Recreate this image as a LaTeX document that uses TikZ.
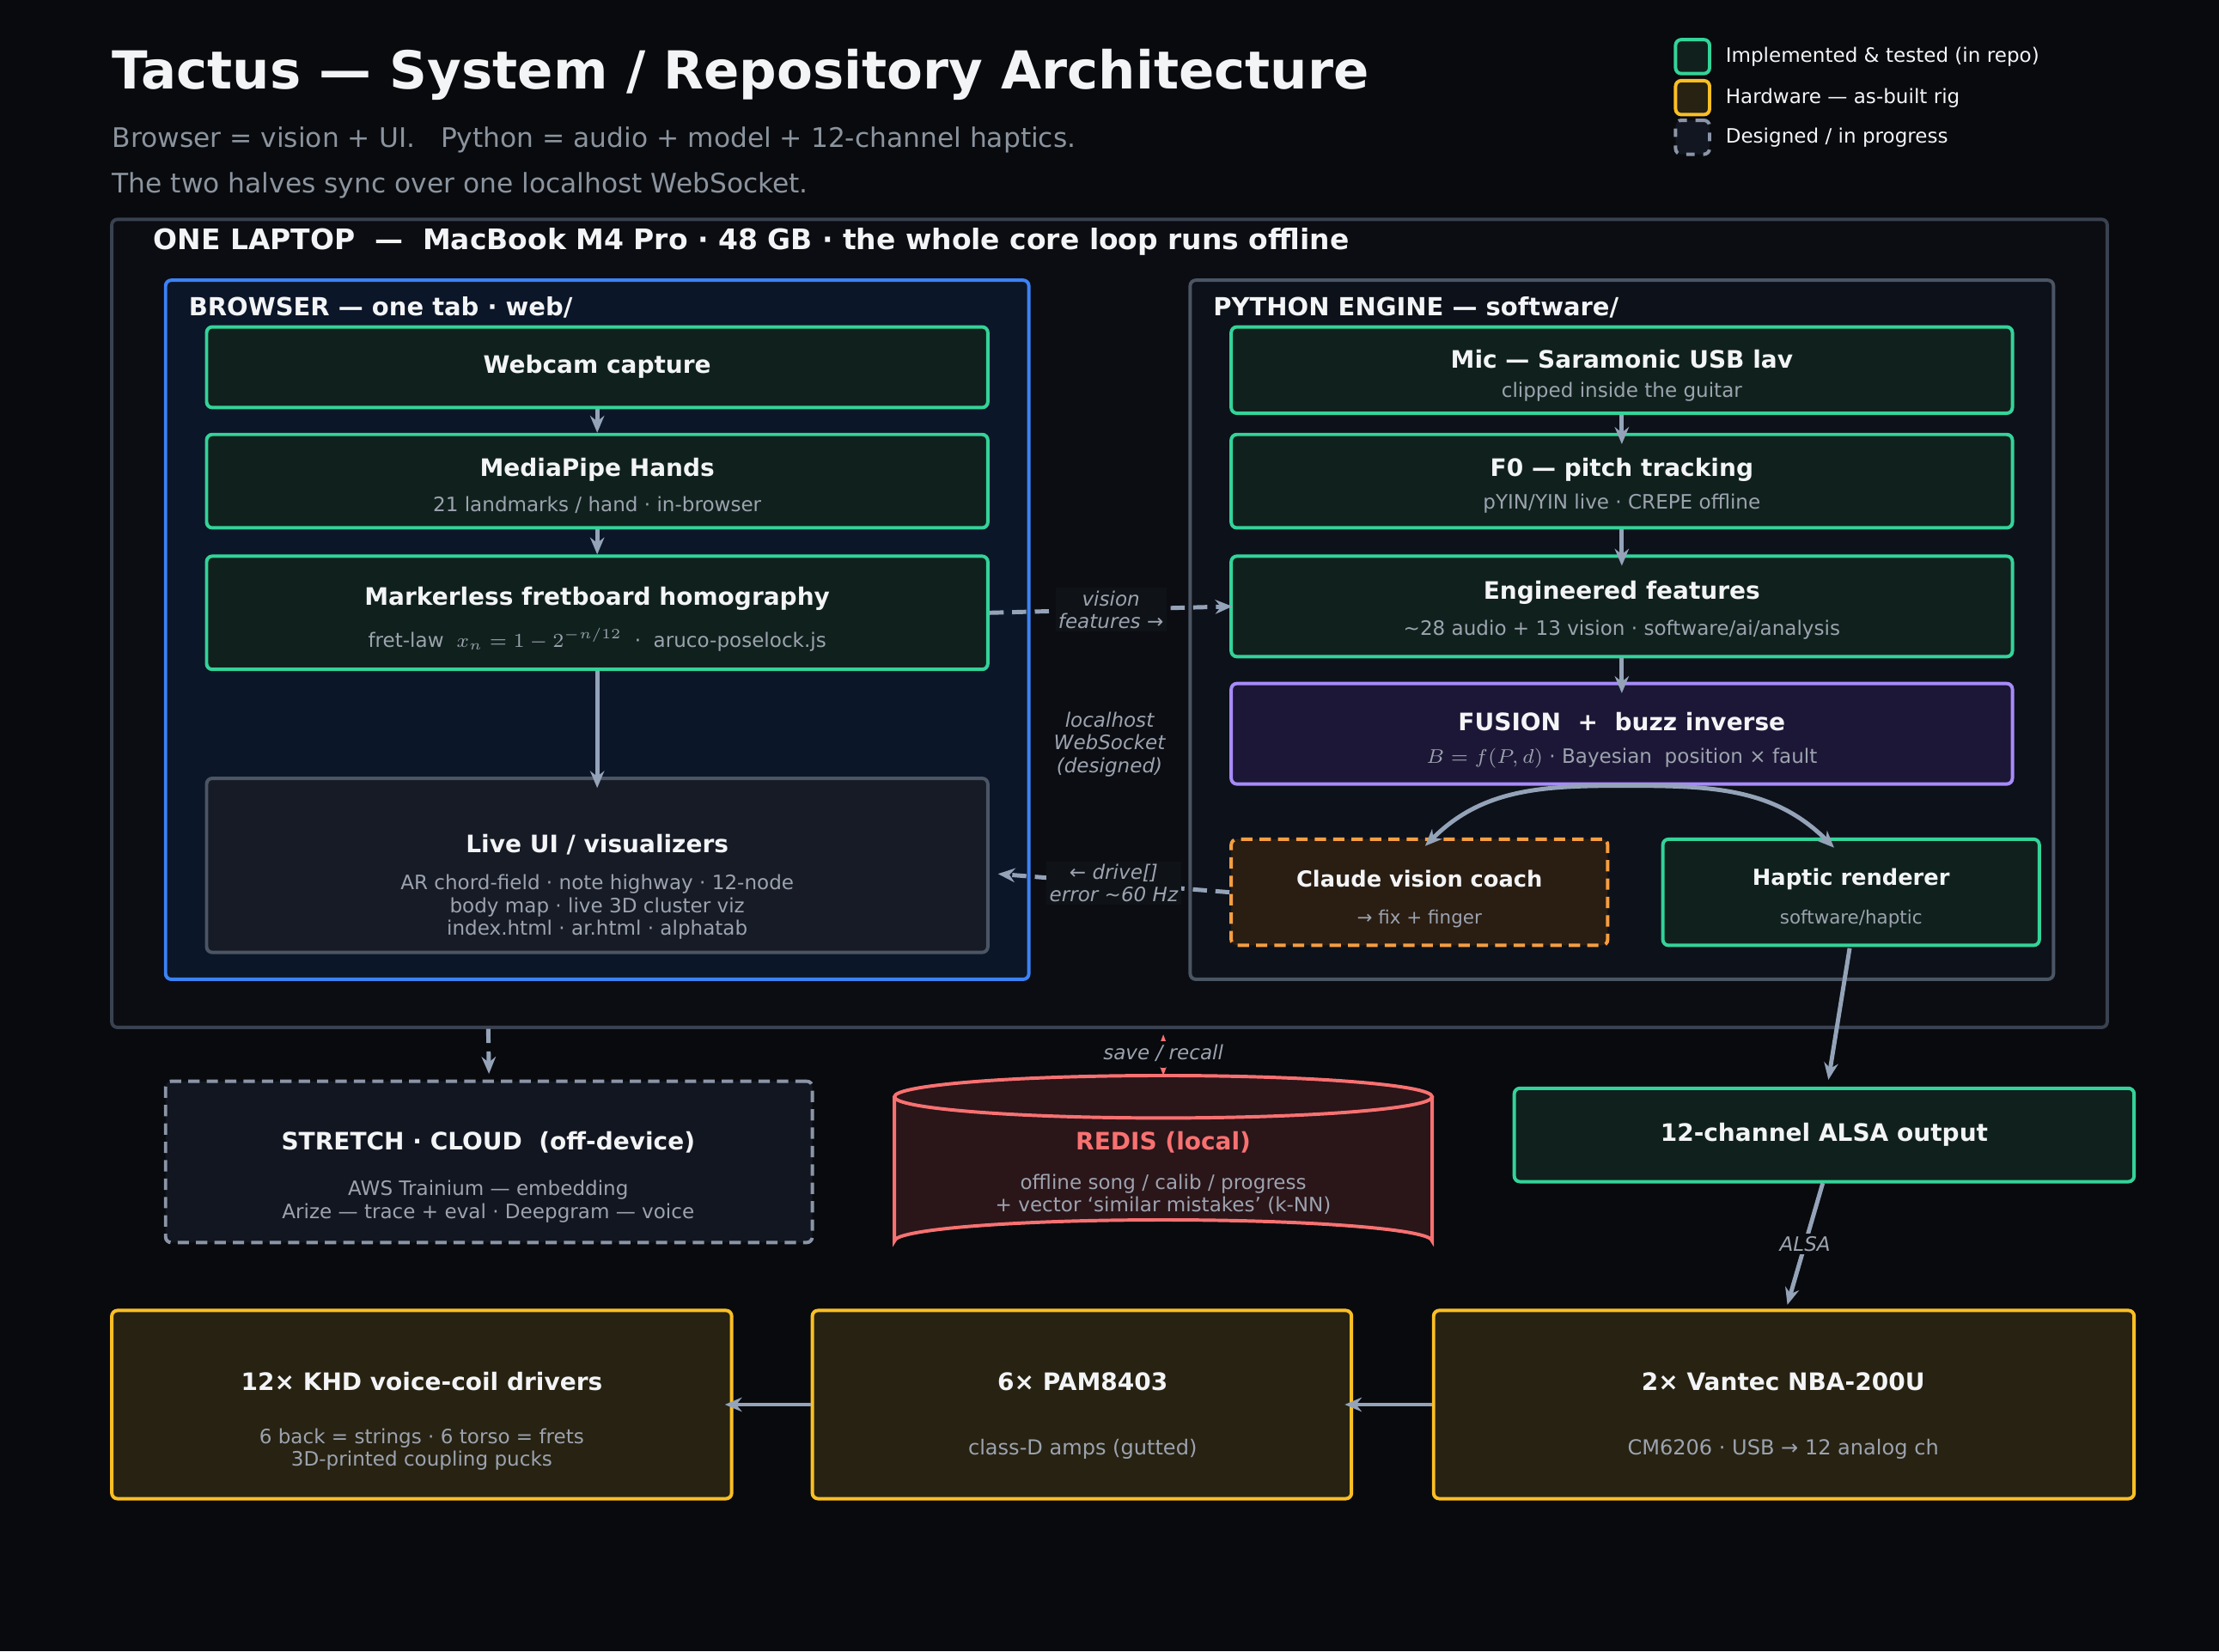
\documentclass[tikz,border=0pt]{standalone}
\usepackage{fontspec}
\setmainfont{DejaVu Sans}
\usetikzlibrary{arrows.meta,shapes.geometric}
\definecolor{bg}{HTML}{080A0E}
\definecolor{lapfill}{HTML}{0B0D12}
\definecolor{lapline}{HTML}{3A4150}
\definecolor{brline}{HTML}{3B82F6}
\definecolor{brfill}{HTML}{0B1628}
\definecolor{pyfill}{HTML}{0D111A}
\definecolor{grayline}{HTML}{4B5563}
\definecolor{grn}{HTML}{34D399}
\definecolor{grnfill}{HTML}{10211D}
\definecolor{pur}{HTML}{A78BFA}
\definecolor{purfill}{HTML}{1C1736}
\definecolor{org}{HTML}{F59E42}
\definecolor{orgfill}{HTML}{2A1D12}
\definecolor{uifill}{HTML}{161B26}
\definecolor{cloudfill}{HTML}{121620}
\definecolor{cloudline}{HTML}{8B95A7}
\definecolor{red}{HTML}{F87171}
\definecolor{redfill}{HTML}{2A1519}
\definecolor{yel}{HTML}{FBBF24}
\definecolor{yelfill}{HTML}{272212}
\definecolor{arr}{HTML}{94A3B8}
\definecolor{sub}{HTML}{9CA3AF}
\definecolor{subt}{HTML}{8B949E}
\definecolor{wht}{HTML}{F3F4F6}
\definecolor{lblbg}{HTML}{0F1318}
\newcommand\boxnode[6]{\node[#6, minimum width={(#4-#2)*0.5pt}, minimum height={(#5-#3)*0.5pt}] (#1) at ({(#2+#4)/2},{(#3+#5)/2}) {};}
\tikzset{
 bx/.style={draw, rounded corners=2pt, line width=1.2pt, inner sep=0pt},
 gbox/.style={bx, draw=grn, fill=grnfill},
 ybox/.style={bx, draw=yel, fill=yelfill},
 ttl/.style={text=wht, font=\bfseries\fontsize{8.5}{10}\selectfont, inner sep=0pt},
 st/.style={text=sub, font=\fontsize{7}{8}\selectfont, align=center, inner sep=0pt},
 ar/.style={draw=arr, line width=1.5pt, -{Stealth[length=6pt,width=5pt]}},
 dar/.style={ar, dash pattern=on 5pt off 3pt},
 lbl/.style={text=sub, font=\itshape\fontsize{7}{8}\selectfont, align=center, inner sep=1pt},
}
\begin{document}
\begin{tikzpicture}[x=0.5pt,y=-0.5pt]
\fill[bg] (0,0) rectangle (1568,1167);
\useasboundingbox (0,0) rectangle (1568,1167);
% title
\node[anchor=west,text=wht,font=\bfseries\fontsize{18.5}{22}\selectfont,inner sep=0pt] (title) at (79,53) {Tactus — System / Repository Architecture};
\node[anchor=west,text=subt,font=\fontsize{9.5}{11}\selectfont,inner sep=0pt] (s1) at (79,99) {Browser = vision + UI.\ \ \ Python = audio + model + 12-channel haptics.};
\node[anchor=west,text=subt,font=\fontsize{9.5}{11}\selectfont,inner sep=0pt] (s2) at (79,131) {The two halves sync over one localhost WebSocket.};
% legend
\boxnode{lg1}{1184}{28}{1208}{52}{gbox}
\boxnode{lg2}{1184}{57}{1208}{81}{ybox}
\boxnode{lg3}{1184}{85}{1208}{109}{bx,draw=cloudline,fill=cloudfill,dashed}
\node[anchor=west,text=wht,font=\fontsize{7}{8}\selectfont,inner sep=0pt] at (1219,40) {Implemented \& tested (in repo)};
\node[anchor=west,text=wht,font=\fontsize{7}{8}\selectfont,inner sep=0pt] at (1219,69) {Hardware — as-built rig};
\node[anchor=west,text=wht,font=\fontsize{7}{8}\selectfont,inner sep=0pt] at (1219,97) {Designed / in progress};
% laptop
\boxnode{lap}{79}{155}{1489}{726}{bx,draw=lapline,fill=lapfill}
\node[anchor=west,text=wht,font=\bfseries\fontsize{10}{12}\selectfont,inner sep=0pt] at (108,171) {ONE LAPTOP\ \ —\ \ MacBook M4 Pro · 48 GB · the whole core loop runs offline};
% browser
\boxnode{br}{117}{198}{727}{692}{bx,draw=brline,fill=brfill}
\node[anchor=west,text=wht,font=\bfseries\fontsize{8.8}{10}\selectfont,inner sep=0pt] at (133,217) {BROWSER — one tab · web/};
\boxnode{web}{146}{231}{698}{288}{gbox}
\node[ttl] at (422,259) {Webcam capture};
\boxnode{mp}{146}{307}{698}{373}{gbox}
\node[ttl] at (422,332) {MediaPipe Hands};
\node[st] at (422,357) {21 landmarks / hand · in-browser};
\boxnode{mk}{146}{393}{698}{473}{gbox}
\node[ttl] at (422,423) {Markerless fretboard homography};
\node[st] at (422,452) {fret-law\ \ $x_n=1-2^{-n/12}$\ \ ·\ \ aruco-poselock.js};
\boxnode{ui}{146}{550}{698}{673}{bx,draw=grayline,fill=uifill}
\node[ttl] at (422,597) {Live UI / visualizers};
\node[st] at (422,641) {AR chord-field · note highway · 12-node\\body map · live 3D cluster viz\\index.html · ar.html · alphatab};
% python
\boxnode{py}{841}{198}{1451}{692}{bx,draw=grayline,fill=pyfill}
\node[anchor=west,text=wht,font=\bfseries\fontsize{8.8}{10}\selectfont,inner sep=0pt] at (857,217) {PYTHON ENGINE — software/};
\boxnode{mic}{870}{231}{1422}{292}{gbox}
\node[ttl] at (1146,254) {Mic — Saramonic USB lav};
\node[st] at (1146,277) {clipped inside the guitar};
\boxnode{f0}{870}{307}{1422}{373}{gbox}
\node[ttl] at (1146,332) {F0 — pitch tracking};
\node[st] at (1146,356) {pYIN/YIN live · CREPE offline};
\boxnode{eng}{870}{393}{1422}{464}{gbox}
\node[ttl] at (1146,419) {Engineered features};
\node[st] at (1146,445) {\textasciitilde28 audio + 13 vision · software/ai/analysis};
\boxnode{fus}{870}{483}{1422}{554}{bx,draw=pur,fill=purfill}
\node[ttl] at (1146,510) {FUSION\ \ +\ \ buzz inverse};
\node[st] at (1146,536) {$B=f(P,d)$ · Bayesian\ \ position × fault};
\boxnode{cl}{870}{593}{1136}{668}{bx,draw=org,fill=orgfill,dash pattern=on 4pt off 2.5pt}
\node[ttl,font=\bfseries\fontsize{7.8}{9}\selectfont] at (1003,621) {Claude vision coach};
\node[st,font=\fontsize{6.5}{8}\selectfont] at (1003,649) {→ fix + finger};
\boxnode{hap}{1175}{593}{1441}{668}{gbox}
\node[ttl,font=\bfseries\fontsize{7.8}{9}\selectfont] at (1308,621) {Haptic renderer};
\node[st,font=\fontsize{6.5}{8}\selectfont] at (1308,649) {software/haptic};
% cloud
\boxnode{cloud}{117}{764}{574}{878}{bx,draw=cloudline,fill=cloudfill,dash pattern=on 4pt off 2.5pt}
\node[ttl] at (345,807) {STRETCH · CLOUD\ \ (off-device)};
\node[st] at (345,849) {AWS Trainium — embedding\\Arize — trace + eval · Deepgram — voice};
% redis
\fill[redfill] (632,775) -- (632,877) arc[start angle=180,end angle=360,x radius=190,y radius=15] -- (1012,775) -- cycle;
\fill[redfill] (822,775) ellipse[x radius=190,y radius=15];
\draw[red,line width=1.2pt] (632,775) -- (632,877) arc[start angle=180,end angle=360,x radius=190,y radius=15] -- (1012,775);
\draw[red,line width=1.2pt] (822,775) ellipse[x radius=190,y radius=15];
\coordinate (redtop) at (822,760);
\node[text=red,font=\bfseries\fontsize{8.5}{10}\selectfont,inner sep=0pt] (redis) at (822,807) {REDIS (local)};
\node[st] at (822,844) {offline song / calib / progress\\+ vector `similar mistakes' (k-NN)};
% alsa
\boxnode{alsa}{1070}{769}{1508}{835}{gbox}
\node[ttl] at (1289,802) {12-channel ALSA output};
% hardware
\boxnode{khd}{79}{926}{517}{1059}{ybox}
\node[ttl] at (298,976) {12× KHD voice-coil drivers};
\node[st] at (298,1024) {6 back = strings · 6 torso = frets\\3D-printed coupling pucks};
\boxnode{pam}{574}{926}{955}{1059}{ybox}
\node[ttl] at (765,976) {6× PAM8403};
\node[st,font=\fontsize{7.3}{9}\selectfont] at (765,1024) {class-D amps (gutted)};
\boxnode{van}{1013}{926}{1508}{1059}{ybox}
\node[ttl] at (1260,976) {2× Vantec NBA-200U};
\node[st,font=\fontsize{7.3}{9}\selectfont] at (1260,1024) {CM6206 · USB → 12 analog ch};
% arrows
\draw[ar] (web.south) -- (mp.north);
\draw[ar] (mp.south) -- (mk.north);
\draw[ar] (mk.south) -- ([yshift=-4pt]ui.north);
\draw[ar] (mic.south) -- ([yshift=-4pt]f0.north);
\draw[ar] (f0.south) -- ([yshift=-4pt]eng.north);
\draw[ar] (eng.south) -- ([yshift=-4pt]fus.north);
\draw[ar] (fus.south) to[out=180,in=45] ([xshift=2pt,yshift=-3pt]cl.north);
\draw[ar] (fus.south) to[out=0,in=135] ([xshift=-3pt,yshift=-3pt]1302,593);
\draw[dar] (mk.east) -- node[lbl,fill=lblbg] {vision\\features →} ([xshift=1pt]eng.west);
\draw[dar] (cl.west) -- node[lbl,fill=lblbg] {← drive[]\\error \textasciitilde60 Hz} ([xshift=3pt,yshift=-3pt]ui.east);
\node[lbl] (ws) at (784,526) {localhost\\WebSocket\\(designed)};
\draw[ar] (1307,670) -- ([yshift=3pt]1292,769);
\draw[dar] (345,727) -- ([yshift=2pt]cloud.north);
\draw[red,line width=1pt,densely dashed,{Stealth[length=3pt]}-{Stealth[length=3pt]}] (822,731) -- (redtop);
\node[lbl,fill=bg] at (822,744) {save / recall};
\draw[ar] (1288,836) -- node[lbl,fill=bg] {ALSA} ([yshift=2pt]1263,926);
\draw[ar] (van.west) -- ([xshift=-3pt]pam.east);
\draw[ar] (pam.west) -- ([xshift=-3pt]khd.east);
\end{tikzpicture}
\end{document}
